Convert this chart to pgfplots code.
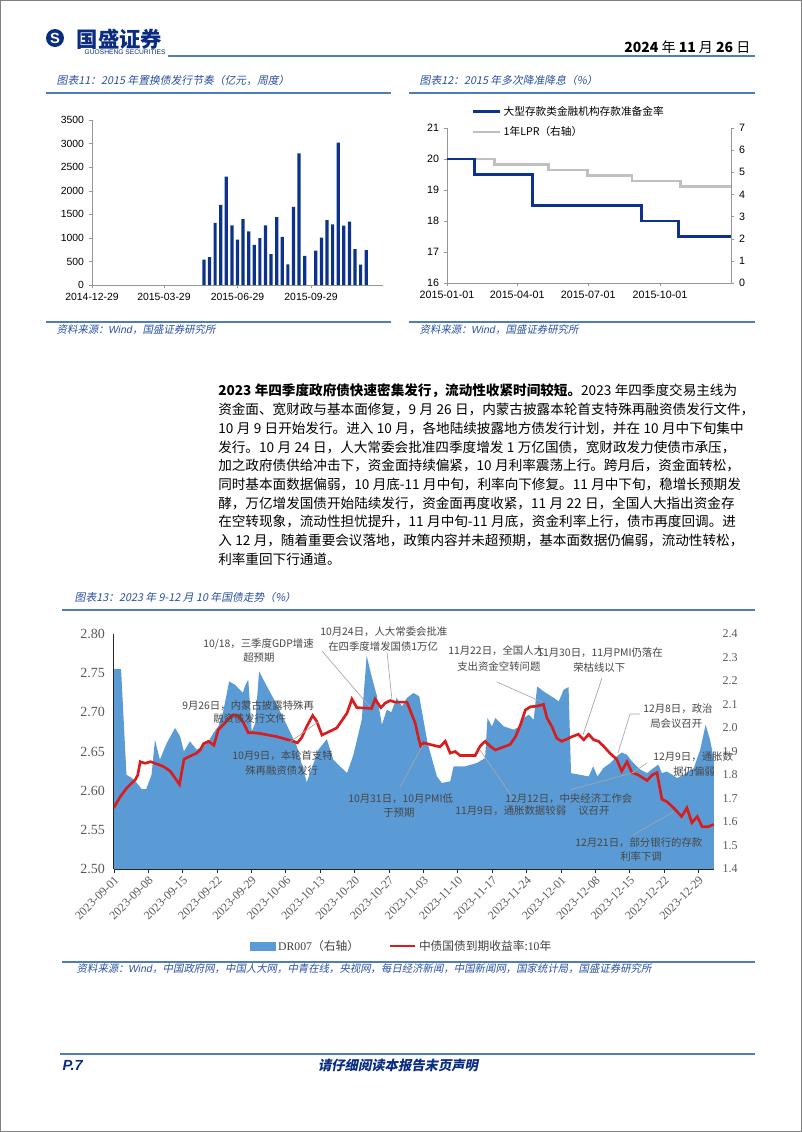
\documentclass[border=0pt]{standalone}
\usepackage{pgfplots}
\pgfplotsset{compat=1.18}
\usepackage{fontspec}
\setmainfont{Noto Sans CJK SC}
\newfontfamily\cjkit[FakeSlant=0.2]{Noto Sans CJK SC}
\newfontfamily\arial{Liberation Sans}
\newfontfamily\tnr{Liberation Serif}
\XeTeXlinebreaklocale "zh"
\XeTeXlinebreakskip=0pt plus 1pt

\definecolor{capblue}{RGB}{40,80,160}
\definecolor{ruleblue}{RGB}{80,125,185}
\definecolor{navy}{RGB}{10,45,130}
\definecolor{barblue}{RGB}{12,50,140}
\definecolor{lprgray}{RGB}{192,192,192}
\definecolor{drblue}{RGB}{91,155,213}
\definecolor{yred}{RGB}{215,30,30}
\definecolor{annot}{RGB}{70,70,70}
\definecolor{axgray}{RGB}{150,150,150}
\newcommand{\fs}[1]{\fontsize{#1}{#1}\selectfont}
% fixed gap between digits and CJK in the body text
\newcommand{\ks}{\kern0.25em\ignorespaces}

\pgfplotsset{
  small chart/.style={
    scale only axis,
    axis line style={-, draw=axgray},
    tick style={draw=axgray},
    tick align=outside,
    major tick length=2.5pt,
    tick label style={font=\arial\fs{7.8}},
    /pgf/number format/assume math mode=true,
    /pgf/number format/1000 sep={},
    scaled ticks=false,
  },
}

\begin{document}
\begin{tikzpicture}[x=0.75pt,y=-0.75pt]
\useasboundingbox (0,0) rectangle (802,1132);
\draw[gray, line width=0.75pt] (0.5,0.5) rectangle (801.5,1131.5);

% header
\fill[navy] (55,38) circle (9);
\node[text=white, font=\arial\bfseries\fs{11}] at (55,38) {S};
\node[anchor=west, text=navy, font=\bfseries\fs{16}] at (72,39) {国盛证券};
\node[anchor=west, text=navy, font=\arial\fs{5}] at (80,52) {GUOSHENG SECURITIES};
\draw[ruleblue, line width=1.5pt] (168,56) -- (755,56);
\node[anchor=east, font=\fs{10.5}] at (755,47) {\textbf{2024} 年 \textbf{11} 月 \textbf{26} 日};

% captions of the two small charts
\node[anchor=west, text=capblue, font=\cjkit\fs{8.1}] at (52,80) {图表11：2015 年置换债发行节奏（亿元，周度）};
\node[anchor=west, text=capblue, font=\cjkit\fs{8.1}] at (415,80) {图表12：2015 年多次降准降息（\%）};
\draw[ruleblue, line width=1.5pt] (46,93) -- (391,93);
\draw[ruleblue, line width=1.5pt] (409,93) -- (755,93);

% chart 11: weekly issuance
\begin{axis}[small chart,
  at={(69pt,-213.75pt)}, anchor=south west,
  width=218.25pt, height=123.75pt,
  xmin=0, xmax=364, ymin=0, ymax=3500,
  axis lines*=left,
  ytick={0,500,1000,1500,2000,2500,3000,3500},
  xtick={0,90,182,274},
  xticklabels={2014-12-29,2015-03-29,2015-06-29,2015-09-29},
  ybar, bar width=2.4pt]
\addplot[fill=barblue, draw=none] coordinates {
  (140,540) (147,590) (154,1320) (161,1700) (168,2300)
  (175,1265) (182,965) (189,1395) (196,1137) (203,850)
  (210,993) (217,1265) (224,655) (231,1440) (238,1020)
  (245,440) (252,1655) (259,2790) (266,620)
  (280,727) (287,1007) (294,1374) (301,1288) (308,3020)
  (315,1259) (322,1345) (329,762) (336,432) (343,741)
};
\end{axis}

% chart 12: RRR and LPR, right axis first
\begin{axis}[small chart,
  at={(335.25pt,-212.25pt)}, anchor=south west,
  width=213pt, height=116.25pt,
  xmin=0, xmax=364, ymin=0, ymax=7,
  axis x line=none, axis y line*=right,
  tick label style={font=\arial\fs{8}},
  ytick={0,1,2,3,4,5,6,7}]
\addplot[const plot, draw=lprgray, line width=2pt] coordinates {
  (0,5.6) (61,5.35) (130,5.1) (180,4.85) (237,4.6) (299,4.35) (364,4.35)
};
\end{axis}
\begin{axis}[small chart,
  at={(335.25pt,-212.25pt)}, anchor=south west,
  width=213pt, height=116.25pt,
  xmin=0, xmax=364, ymin=16, ymax=21,
  axis lines*=left,
  ytick={16,17,18,19,20,21},
  tick label style={font=\arial\fs{8}},
  xtick={0,90,181,273},
  xticklabels={2015-01-01,2015-04-01,2015-07-01,2015-10-01},
  legend style={at={(0.085,1.16)}, anchor=north west, draw=none, fill=none,
    font=\fs{8}, row sep=3pt, inner sep=0pt},
  legend cell align=left]
\addplot[const plot, draw=barblue, line width=2.2pt,
  legend image code/.code={\draw[barblue, line width=2.2pt] (0pt,0pt) -- (20pt,0pt);}] coordinates {
  (0,20) (35,19.5) (109,18.5) (249,18) (297,17.5) (364,17.5)
};
\addlegendentry{大型存款类金融机构存款准备金率}
\addlegendimage{legend image code/.code={\draw[lprgray, line width=2pt] (0pt,0pt) -- (20pt,0pt);}}
\addlegendentry{1年LPR（右轴）}
\end{axis}

% sources of the small charts
\draw[ruleblue, line width=0.8pt] (46,322) -- (391,322);
\draw[ruleblue, line width=0.8pt] (409,322) -- (755,322);
\node[anchor=west, text=capblue, font=\cjkit\fs{7.8}] at (52,330) {资料来源：{\arial\itshape Wind}，国盛证券研究所};
\node[anchor=west, text=capblue, font=\cjkit\fs{7.8}] at (415,330) {资料来源：{\arial\itshape Wind}，国盛证券研究所};

% body text
\begin{scope}[every node/.style={anchor=west, inner sep=0pt, font=\fs{10.2}}]
\node at (218,391.0) {\makebox[401.25pt][s]{\textbf{2023\ks 年四季度政府债快速密集发行，流动性收紧时间较短。}2023\ks 年四季度交易主线为}};
\node at (218,409.7) {\makebox[401.25pt][s]{资金面、宽财政与基本面修复，9\ks 月\ks 26\ks 日，内蒙古披露本轮首支特殊再融资债发行文件，}};
\node at (218,428.4) {\makebox[401.25pt][s]{10\ks 月\ks 9\ks 日开始发行。进入\ks 10\ks 月，各地陆续披露地方债发行计划，并在\ks 10\ks 月中下旬集中}};
\node at (218,447.1) {\makebox[401.25pt][s]{发行。10\ks 月\ks 24\ks 日，人大常委会批准四季度增发\ks 1\ks 万亿国债，宽财政发力使债市承压，}};
\node at (218,465.8) {\makebox[401.25pt][s]{加之政府债供给冲击下，资金面持续偏紧，10\ks 月利率震荡上行。跨月后，资金面转松，}};
\node at (218,484.5) {\makebox[401.25pt][s]{同时基本面数据偏弱，10\ks 月底-11\ks 月中旬，利率向下修复。11\ks 月中下旬，稳增长预期发}};
\node at (218,503.2) {\makebox[401.25pt][s]{酵，万亿增发国债开始陆续发行，资金面再度收紧，11\ks 月\ks 22\ks 日，全国人大指出资金存}};
\node at (218,521.9) {\makebox[401.25pt][s]{在空转现象，流动性担忧提升，11\ks 月中旬-11\ks 月底，资金利率上行，债市再度回调。进}};
\node at (218,540.6) {\makebox[401.25pt][s]{入\ks 12\ks 月，随着重要会议落地，政策内容并未超预期，基本面数据仍偏弱，流动性转松，}};
\node at (218,559.3) {利率重回下行通道。};
\end{scope}

% chart 13 caption
\node[anchor=west, text=capblue, font=\cjkit\fs{8.1}] at (70,597) {图表13：2023 年 9-12 月 10 年国债走势（\%）};
\draw[ruleblue, line width=1pt] (62,610) -- (755,610);

% chart 13: DR007 area on the right axis
\begin{axis}[scale only axis,
  at={(85.275pt,-651.75pt)}, anchor=south west,
  width=450.2pt, height=176.25pt,
  xmin=0, xmax=122.2, ymin=1.4, ymax=2.4,
  axis x line=none, axis y line*=right,
  axis line style={draw=none}, ytick style={draw=none},
  ytick={1.4,1.5,1.6,1.7,1.8,1.9,2.0,2.1,2.2,2.3,2.4},
  yticklabel style={font=\tnr\fs{9}, text=black!65, xshift=3pt,
    /pgf/number format/.cd, fixed, fixed zerofill, precision=1},
  /pgf/number format/assume math mode=true]
\addplot[fill=drblue, draw=none] coordinates {
  (0,2.251) (1.5,2.251) (2.6,1.801) (3.7,1.787) (4.7,1.766) (5.7,1.740)
  (6.6,1.740) (7.7,1.800) (8.4,1.950) (9.4,1.865) (10.8,1.936) (12.5,2.000)
  (13.5,1.965) (14.3,1.900) (15.5,1.943) (16.9,1.908) (18.2,1.922) (19.3,1.943)
  (20.3,1.979) (21.3,2.007) (22.3,2.071) (23.5,2.198) (24.7,2.184) (26.3,2.150)
  (26.7,2.177) (27.4,2.206) (28.1,1.986) (28.8,2.020) (29.6,2.241) (31.2,2.177)
  (33.2,2.099) (35.2,2.014) (37.3,1.922) (39.3,1.769) (40.7,1.851) (41.7,1.908)
  (43.4,1.953) (44.7,1.865) (47.5,1.808) (48.8,1.886) (50.5,2.035) (51.5,2.308)
  (52.5,2.220) (53.6,2.135) (54.6,2.014) (55.6,2.078) (56.5,2.067) (57.6,2.128)
  (58.7,2.092) (59.7,2.128) (61.0,2.149) (62.2,2.135) (63.9,1.936) (65.8,1.794)
  (66.8,1.766) (68.5,1.773) (69.2,1.837) (71.6,1.837) (73.9,1.851) (75.6,1.872)
  (76.1,2.043) (77.0,2.007) (77.7,2.043) (79.4,2.007) (81.4,1.993) (82.8,2.007)
  (83.5,2.043) (84.5,2.057) (85.5,2.035) (86.2,2.177) (87.5,2.156) (89.6,2.128)
  (90.6,2.113) (91.6,2.163) (92.6,2.174) (93.1,1.808) (94.9,1.801) (96.7,1.794)
  (97.6,1.837) (98.5,1.794) (99.7,1.830) (101.1,1.851) (102.4,1.879) (103.4,1.896)
  (104.5,1.886) (105.5,1.858) (107.2,1.823) (108.6,1.808) (109.9,1.830) (110.9,1.844)
  (111.6,1.808) (112.6,1.815) (113.7,1.801) (114.7,1.787) (116.0,1.801) (118.1,1.830)
  (119.4,1.908) (120.5,2.014) (121.4,1.950) (122.2,1.865)
} \closedcycle;
\end{axis}

% chart 13: 10y yield on the left axis
\begin{axis}[scale only axis,
  at={(85.275pt,-651.75pt)}, anchor=south west,
  width=450.2pt, height=176.25pt,
  xmin=0, xmax=122.2, ymin=2.5, ymax=2.8,
  axis lines*=left, axis line style={-, draw=black!85},
  tick align=outside, major tick length=3pt,
  xtick style={draw=black!85}, ytick style={draw=none},
  xtick={0,7,...,119},
  xticklabels={2023-09-01,2023-09-08,2023-09-15,2023-09-22,2023-09-29,2023-10-06,
    2023-10-13,2023-10-20,2023-10-27,2023-11-03,2023-11-10,2023-11-17,2023-11-24,
    2023-12-01,2023-12-08,2023-12-15,2023-12-22,2023-12-29},
  xticklabel style={rotate=45, anchor=north east, inner sep=1pt,
    font=\tnr\fs{9}, text=black!65},
  ytick={2.50,2.55,2.60,2.65,2.70,2.75,2.80},
  yticklabel style={font=\tnr\fs{10.5}, text=black!65,
    /pgf/number format/.cd, fixed, fixed zerofill, precision=2},
  /pgf/number format/assume math mode=true,
  legend style={at={(0.48,-0.328)}, anchor=center, draw=none, fill=none,
    font=\fs{8.8}, text=black!75, legend columns=2,
    /tikz/every even column/.append style={column sep=20pt}}]
\addlegendimage{legend image code/.code={\fill[drblue] (0pt,-3pt) rectangle (19pt,3pt);}}
\addlegendentry{{\tnr DR007}（右轴）}
\addplot[yred, line width=2pt,
  legend image code/.code={\draw[yred, line width=2pt] (0pt,0pt) -- (19pt,0pt);}] coordinates {
  (0,2.578) (1.3,2.592) (2.6,2.603) (3.7,2.610) (4.4,2.614) (4.9,2.620)
  (5.4,2.637) (6.4,2.635) (7.5,2.637) (8.8,2.634) (10.1,2.631) (11.5,2.625)
  (13.4,2.608) (14.3,2.640) (15.5,2.644) (16.9,2.648) (17.6,2.652) (18.3,2.660)
  (19.3,2.663) (20.4,2.658) (21.3,2.678) (22.3,2.684) (23.3,2.691) (24.4,2.697)
  (25.4,2.695) (26.4,2.687) (27.4,2.674) (28.4,2.674) (29.8,2.673) (33.2,2.669)
  (36.6,2.663) (37.4,2.661) (38.3,2.668) (39.3,2.682) (40.5,2.696) (41.3,2.689)
  (42.4,2.671) (43.4,2.674) (45.4,2.680) (46.4,2.689) (47.5,2.699) (48.5,2.717)
  (49.5,2.706) (52.5,2.705) (53.2,2.717) (54.4,2.706) (55.3,2.712) (56.3,2.715)
  (57.3,2.713) (59.7,2.713) (60.7,2.697) (61.4,2.686) (62.05,2.667) (62.5,2.657)
  (63.1,2.661) (65.0,2.658) (66.4,2.656) (67.5,2.663) (68.5,2.648) (69.5,2.650)
  (70.5,2.645) (73.6,2.645) (74.6,2.657) (75.6,2.663) (76.6,2.657) (77.7,2.652)
  (80.7,2.659) (81.8,2.669) (82.8,2.684) (83.8,2.703) (84.8,2.707) (86.2,2.708)
  (87.5,2.710) (88.2,2.693) (89.2,2.682) (90.2,2.667) (91.2,2.663) (92.3,2.666)
  (93.3,2.669) (94.6,2.672) (95.7,2.665) (96.7,2.672) (97.7,2.665) (98.7,2.663)
  (99.7,2.657) (101.0,2.648) (102.4,2.640) (103.4,2.625) (104.5,2.637) (105.5,2.623)
  (106.5,2.621) (108.6,2.613) (109.6,2.620) (110.6,2.623) (111.6,2.589) (112.6,2.586)
  (114.0,2.578) (115.6,2.567) (116.7,2.578) (117.7,2.559) (118.8,2.567) (119.8,2.554)
  (121.0,2.554) (122.2,2.557)
};
\addlegendentry{中债国债到期收益率:{\tnr 10}年}
\end{axis}

% chart 13 annotations
\begin{scope}[every node/.style={anchor=west, inner sep=0pt, text=annot, font=\fs{7.8}}]
\draw[gray!70, line width=0.5pt] (322,651) -- (370,707);
\draw[gray!70, line width=0.5pt] (387,652) -- (392,700);
\draw[gray!70, line width=0.5pt] (290,742) -- (318,722);
\draw[gray!70, line width=0.5pt] (400,787) -- (423,745);
\draw[gray!70, line width=0.5pt] (497,682) -- (542,702);
\draw[gray!70, line width=0.5pt] (602,678) -- (583,735);
\draw[gray!70, line width=0.5pt] (640,714) -- (630,714) -- (618,753);
\draw[gray!70, line width=0.5pt] (647,763) -- (632,773);
\draw[gray!70, line width=0.5pt] (570,790) -- (635,772);
\draw[gray!70, line width=0.5pt] (513,798) -- (480,750);
\draw[gray!70, line width=0.5pt] (633,835) -- (673,812);
\node at (203,644) {10/18，三季度GDP增速};
\node at (243,658) {超预期};
\node at (320,632) {10月24日，人大常委会批准};
\node at (328,647) {在四季度增发国债1万亿};
\node at (182,706) {9月26日，内蒙古披露特殊再};
\node at (213,719) {融资债发行文件};
\node at (232,756) {10月9日，本轮首支特};
\node at (245,771) {殊再融资债发行};
\node at (348,799) {10月31日，10月PMI低};
\node at (383,813) {于预期};
\node at (448,651) {11月22日，全国人大};
\node at (457,667) {支出资金空转问题};
\node at (537,653) {11月30日，11月PMI仍落在};
\node at (573,668) {荣枯线以下};
\node at (643,709) {12月8日，政治};
\node at (650,724) {局会议召开};
\node at (653,757) {12月9日，通胀数};
\node at (673,772) {据仍偏弱};
\node at (505,799) {12月12日，中央经济工作会};
\node at (578,811) {议召开};
\node at (455,811) {11月9日，通胀数据较弱};
\node at (575,843) {12月21日，部分银行的存款};
\node at (620,857) {利率下调};
\end{scope}

% chart 13 source
\draw[ruleblue, line width=0.8pt] (62,962) -- (755,962);
\node[anchor=west, text=capblue, font=\cjkit\fs{7.8}] at (72,969) {资料来源：{\arial\itshape Wind}，中国政府网，中国人大网，中青在线，央视网，每日经济新闻，中国新闻网，国家统计局，国盛证券研究所};

% footer
\draw[ruleblue, line width=1pt] (60,1054) -- (755,1054);
\node[anchor=west, text=navy, font=\arial\bfseries\itshape\fs{11}] at (58,1065) {P.7};
\node[text=navy, font=\cjkit\bfseries\fs{10}] at (398,1065) {请仔细阅读本报告末页声明};
\end{tikzpicture}
\end{document}
